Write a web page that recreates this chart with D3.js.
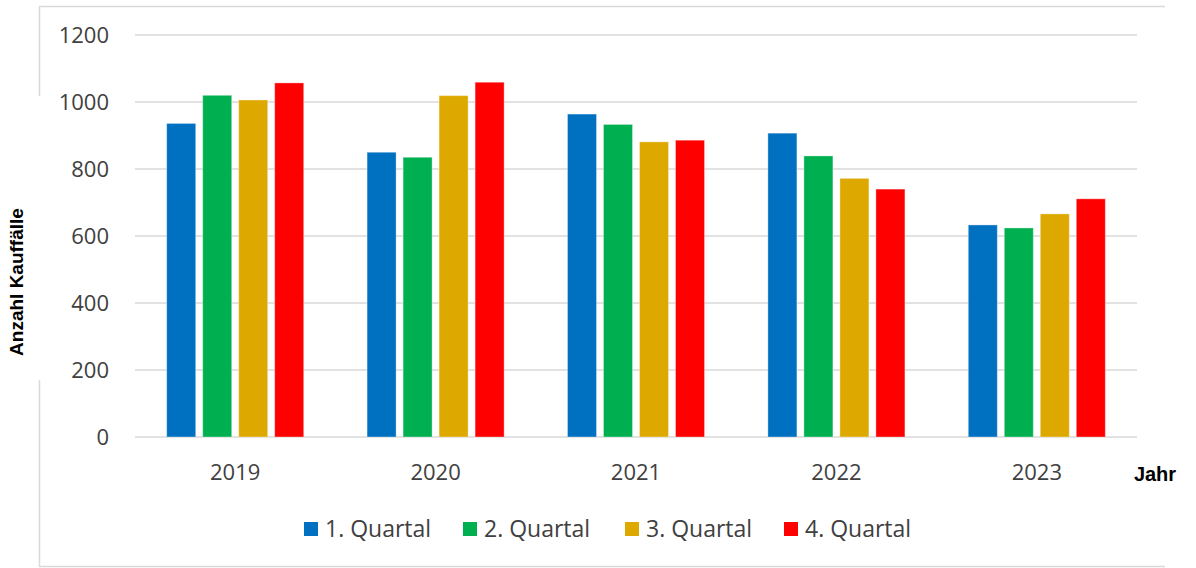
<!DOCTYPE html>
<html><head><meta charset="utf-8">
<script src="https://cdn.jsdelivr.net/npm/d3@7"></script>
<style>
html,body{margin:0;padding:0;background:#fff;}
svg{display:block;}
</style></head>
<body>
<svg id="chart" width="1196" height="568"></svg>
<script>
const years = ["2019", "2020", "2021", "2022", "2023"];
const quarters = ["1. Quartal", "2. Quartal", "3. Quartal", "4. Quartal"];
const q1 = [936, 850, 964, 907, 633];
const q2 = [1020, 835, 933, 839, 624];
const q3 = [1006, 1019, 881, 772, 666];
const q4 = [1057, 1059, 886, 740, 711];
const yTicks = [0, 200, 400, 600, 800, 1000, 1200];
const colors = ["#0070C0", "#00B050", "#DDA900", "#FF0000"];
const seriesValues = [q1, q2, q3, q4];

const svg = d3.select("#chart");
const font = "'Open Sans', sans-serif";
const textCol = "#404040";
const gridCol = "#d9d9d9";

// frame
svg.append("line").attr("x1",39).attr("x2",1165).attr("y1",6.5).attr("y2",6.5).attr("stroke",gridCol).attr("stroke-width",1.5);
svg.append("line").attr("x1",39).attr("x2",1165).attr("y1",566.5).attr("y2",566.5).attr("stroke",gridCol).attr("stroke-width",1.5);
svg.append("line").attr("x1",39.5).attr("x2",39.5).attr("y1",6).attr("y2",96).attr("stroke",gridCol).attr("stroke-width",1.5);
svg.append("line").attr("x1",39.5).attr("x2",39.5).attr("y1",380).attr("y2",567).attr("stroke",gridCol).attr("stroke-width",1.5);

const x0 = d3.scaleBand().domain(years).range([135, 1137]).padding(0);
const x1 = d3.scaleBand().domain(quarters).range([0, x0.bandwidth()]).paddingInner(0.194).paddingOuter(0.88);
const y = d3.scaleLinear().domain([0, 1200]).range([437, 35]);

// grid
svg.append("g").selectAll("line").data(yTicks).join("line")
  .attr("x1", 135).attr("x2", 1137)
  .attr("y1", d => y(d)).attr("y2", d => y(d))
  .attr("stroke", gridCol).attr("stroke-width", 1.5);

// y axis labels
const yAxis = d3.axisLeft(y).tickValues(yTicks).tickSize(0).tickPadding(0).tickFormat(d3.format("d"));
const gy = svg.append("g").attr("transform","translate(109,0)").call(yAxis);
gy.select(".domain").remove();
gy.selectAll("text").attr("font-family", font).attr("font-size", 22).attr("fill", textCol).attr("dy","0.35em");

// bars
const data = [];
years.forEach((yr, i) => quarters.forEach((q, j) => data.push({yr, q, v: seriesValues[j][i], c: colors[j]})));
svg.append("g").selectAll("rect").data(data).join("rect")
  .attr("x", d => x0(d.yr) + x1(d.q))
  .attr("y", d => y(d.v))
  .attr("width", x1.bandwidth())
  .attr("height", d => y(0) - y(d.v))
  .attr("fill", d => d.c)
  .attr("stroke", "rgba(255,255,255,0.35)").attr("stroke-width", 1);

// x axis labels
const xAxis = d3.axisBottom(x0).tickSize(0).tickPadding(0);
const gx = svg.append("g").attr("transform","translate(0,472)").call(xAxis);
gx.select(".domain").remove();
gx.selectAll("text").attr("font-family", font).attr("font-size", 22).attr("fill", textCol).attr("dy","0.35em");

// axis titles
svg.append("text").attr("transform","translate(23,282) rotate(-90)")
  .attr("text-anchor","middle").attr("font-family","'Liberation Sans', Arial, sans-serif")
  .attr("font-weight","bold").attr("font-size",19).attr("fill","#000").text("Anzahl Kauffälle");
svg.append("text").attr("x",1155).attr("y",481).attr("text-anchor","middle")
  .attr("font-family","'Liberation Sans', Arial, sans-serif")
  .attr("font-weight","bold").attr("font-size",20).attr("fill","#000").text("Jahr");

// legend
const legendX = [304, 463, 625, 784];
const lg = svg.append("g").selectAll("g").data(quarters).join("g")
  .attr("transform", (d,i) => `translate(${legendX[i]},522)`);
lg.append("rect").attr("width",14).attr("height",14).attr("fill",(d,i)=>colors[i]);
lg.append("text").attr("x",21).attr("y",7).attr("dy","0.35em")
  .attr("font-family", font).attr("font-size", 23).attr("fill", textCol).text(d => d);
</script>
</body></html>
